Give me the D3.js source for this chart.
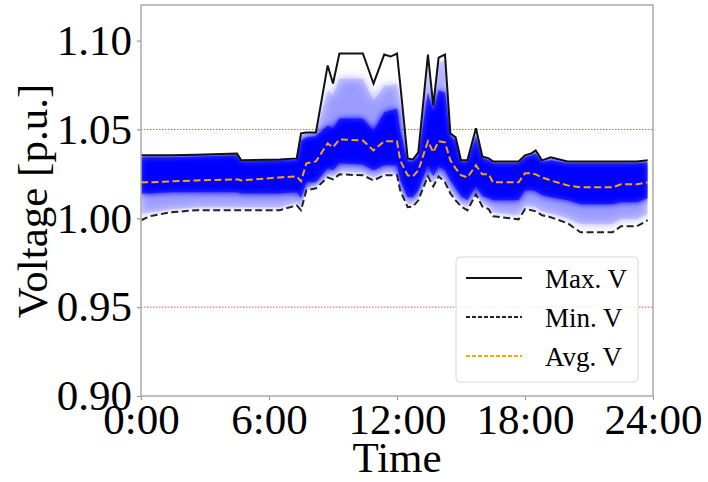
<!DOCTYPE html>
<meta charset="utf-8">
<head>
    <title>Bus voltages</title>
    <script src="https://d3js.org/d3.v7.min.js"></script>
</head>
<style type="text/css">
body{
    margin: 0;
    background: #FFFFFF;
}
text{
    font-family: "Liberation Serif", "Times New Roman", serif;
    fill: #000;
}
</style>
<body>
    <svg id="chart" width="708" height="482"></svg>

    <script type="text/javascript">
        // time of day in hours
        var hours = [0, 0.4, 1.4, 2.6, 4.5, 4.7, 6.5, 7.3, 7.5, 7.75, 8.2, 8.75, 9.0, 9.3, 10.4, 10.9, 11.4, 11.7, 12.0, 12.15,
                     12.5, 12.75, 13.0, 13.45, 13.7, 13.95, 14.25, 14.5, 14.75, 15.0, 15.3, 15.7, 16.0, 16.3, 16.5, 17.7, 18.0, 18.3,
                     18.5, 18.8, 19.2, 20.0, 20.6, 22.1, 22.5, 23.25, 23.75];
        var maxV = [1.0354, 1.0354, 1.0354, 1.0357, 1.0365, 1.0326, 1.0331, 1.0337, 1.0478, 1.0483, 1.0483, 1.0860, 1.0758, 1.0927, 1.0927, 1.0758, 1.0921, 1.0910, 1.0927, 1.0756,
                    1.0337, 1.0331, 1.0371, 1.0921, 1.0635, 1.0904, 1.0921, 1.0478, 1.0455, 1.0326, 1.0326, 1.0506, 1.0348, 1.0337, 1.0320, 1.0320, 1.0354, 1.0365,
                    1.0382, 1.0326, 1.0343, 1.0320, 1.0320, 1.0320, 1.0320, 1.0320, 1.0326];
        var minV = [0.9989, 1.0011, 1.0034, 1.0045, 1.0045, 1.0045, 1.0045, 1.0073, 1.0045, 1.0157, 1.0169, 1.0230, 1.0219, 1.0247, 1.0242, 1.0213, 1.0242, 1.0242, 1.0242, 1.0157,
                    1.0062, 1.0067, 1.0101, 1.0236, 1.0180, 1.0236, 1.0202, 1.0140, 1.0101, 1.0067, 1.0045, 1.0135, 1.0067, 1.0051, 1.0011, 0.9994, 1.0051, 1.0045,
                    1.0039, 1.0017, 1.0006, 0.9972, 0.9921, 0.9921, 0.9955, 0.9955, 0.9989];
        var avgV = [1.0202, 1.0202, 1.0208, 1.0213, 1.0219, 1.0213, 1.0230, 1.0236, 1.0208, 1.0309, 1.0320, 1.0421, 1.0399, 1.0444, 1.0438, 1.0382, 1.0433, 1.0433, 1.0433, 1.0326,
                    1.0242, 1.0236, 1.0270, 1.0433, 1.0371, 1.0433, 1.0427, 1.0326, 1.0281, 1.0242, 1.0230, 1.0298, 1.0247, 1.0247, 1.0202, 1.0202, 1.0253, 1.0253,
                    1.0247, 1.0230, 1.0213, 1.0185, 1.0174, 1.0174, 1.0191, 1.0191, 1.0202];
        // envelope of the pale bus curves (upper / lower)
        var paleTop = [1.0351, 1.0351, 1.0351, 1.0354, 1.0362, 1.0323, 1.0329, 1.0334, 1.0472, 1.0478, 1.0478, 1.0719, 1.0691, 1.0787, 1.0787, 1.0663, 1.0747, 1.0747, 1.0758, 1.0663,
                       1.0331, 1.0326, 1.0365, 1.0876, 1.0629, 1.0876, 1.0888, 1.0472, 1.0449, 1.0320, 1.0326, 1.0494, 1.0343, 1.0331, 1.0315, 1.0315, 1.0348, 1.0360,
                       1.0376, 1.0320, 1.0337, 1.0315, 1.0315, 1.0315, 1.0315, 1.0315, 1.0320];
        var paleBottom = [1.0022, 1.0034, 1.0051, 1.0062, 1.0062, 1.0062, 1.0062, 1.0090, 1.0062, 1.0174, 1.0185, 1.0247, 1.0236, 1.0264, 1.0258, 1.0230, 1.0258, 1.0258, 1.0258, 1.0174,
                          1.0079, 1.0084, 1.0118, 1.0253, 1.0197, 1.0253, 1.0219, 1.0157, 1.0118, 1.0084, 1.0062, 1.0152, 1.0084, 1.0067, 1.0034, 1.0017, 1.0073, 1.0067,
                          1.0062, 1.0039, 1.0028, 1.0000, 0.9966, 0.9966, 0.9994, 0.9994, 1.0022];
        // envelope of the dense bulk of bus curves
        var denseTop = [1.0343, 1.0343, 1.0343, 1.0348, 1.0354, 1.0320, 1.0326, 1.0326, 1.0438, 1.0455, 1.0461, 1.0522, 1.0506, 1.0562, 1.0562, 1.0494, 1.0596, 1.0607, 1.0618, 1.0494,
                        1.0320, 1.0320, 1.0348, 1.0708, 1.0596, 1.0719, 1.0708, 1.0461, 1.0438, 1.0315, 1.0315, 1.0466, 1.0337, 1.0326, 1.0309, 1.0309, 1.0343, 1.0354,
                        1.0365, 1.0315, 1.0326, 1.0309, 1.0309, 1.0309, 1.0309, 1.0309, 1.0315];
        var denseBottom = [1.0140, 1.0140, 1.0146, 1.0146, 1.0146, 1.0140, 1.0140, 1.0146, 1.0112, 1.0202, 1.0202, 1.0281, 1.0270, 1.0309, 1.0303, 1.0270, 1.0298, 1.0298, 1.0298, 1.0213,
                           1.0118, 1.0118, 1.0157, 1.0298, 1.0236, 1.0292, 1.0270, 1.0213, 1.0169, 1.0124, 1.0101, 1.0180, 1.0124, 1.0112, 1.0101, 1.0101, 1.0157, 1.0157,
                           1.0152, 1.0129, 1.0118, 1.0101, 1.0079, 1.0079, 1.0090, 1.0090, 1.0112];

        var xTicks = [0, 6, 12, 18, 24];
        var yTicks = [0.90, 0.95, 1.00, 1.05, 1.10];
        var limits = [1.05, 0.95];
        var legendItems = ["Max. V", "Min. V", "Avg. V"];

        var svg = d3.select("#chart");
        var plotLeft = 141, plotRight = 653, plotTop = 5, plotBottom = 396;

        var x = d3.scaleLinear().domain([0, 24]).range([plotLeft, plotRight]);
        var y = d3.scaleLinear().domain([0.90, 1.12]).range([plotBottom, plotTop]);

        var defs = svg.append("defs");
        defs.append("filter").attr("id", "soft")
            .attr("x", "-5%").attr("y", "-30%").attr("width", "110%").attr("height", "160%")
            .append("feGaussianBlur").attr("stdDeviation", 3);
        defs.append("filter").attr("id", "softer")
            .attr("x", "-5%").attr("y", "-30%").attr("width", "110%").attr("height", "160%")
            .append("feGaussianBlur").attr("stdDeviation", 5);
        defs.append("clipPath").attr("id", "envelope")
            .append("path")
            .attr("d", d3.area()
                .x(function(d, i) { return x(hours[i]); })
                .y0(function(d, i) { return y(minV[i]); })
                .y1(function(d, i) { return y(maxV[i]); })(hours));

        function band(lo, hi) {
            return d3.area()
                .x(function(d, i) { return x(hours[i]); })
                .y0(function(d, i) { return y(lo[i]); })
                .y1(function(d, i) { return y(hi[i]); })(hours);
        }
        function line(vals) {
            return d3.line()
                .x(function(d, i) { return x(hours[i]); })
                .y(function(d, i) { return y(vals[i]); })(hours);
        }

        // voltage limits
        limits.forEach(function(v) {
            svg.append("line")
                .attr("x1", plotLeft).attr("x2", plotRight)
                .attr("y1", y(v)).attr("y2", y(v))
                .attr("stroke", "red")
                .attr("stroke-opacity", 0.7)
                .attr("stroke-width", 1)
                .attr("stroke-dasharray", "1.5,1.5");
        });

        // bus voltage curves, drawn as bands
        var g = svg.append("g").attr("clip-path", "url(#envelope)");
        g.append("path").attr("d", band(paleBottom, paleTop))
            .attr("fill", "#0000ff").attr("opacity", 0.12);
        g.append("path").attr("d", band(paleBottom, paleTop))
            .attr("fill", "#0000ff").attr("opacity", 0.3)
            .attr("filter", "url(#softer)");
        g.append("path").attr("d", band(denseBottom, denseTop))
            .attr("fill", "#0000ff")
            .attr("filter", "url(#soft)");
        g.append("path").attr("d", band(denseBottom, denseTop))
            .attr("fill", "#0000ff").attr("opacity", 0.6);

        // envelope lines
        svg.append("path").attr("d", line(maxV))
            .attr("fill", "none").attr("stroke", "#111").attr("stroke-width", 2);
        svg.append("path").attr("d", line(minV))
            .attr("fill", "none").attr("stroke", "#222").attr("stroke-width", 2)
            .attr("stroke-dasharray", "7,3.5");
        svg.append("path").attr("d", line(avgV))
            .attr("fill", "none").attr("stroke", "#ffa500").attr("stroke-width", 2)
            .attr("stroke-dasharray", "7,3.5");

        // axes
        var yAxis = svg.append("g")
            .attr("transform", "translate(" + plotLeft + ",0)")
            .call(d3.axisLeft(y).tickValues(yTicks).tickFormat(d3.format(".2f")).tickSize(4).tickPadding(5));
        var xAxis = svg.append("g")
            .attr("transform", "translate(0," + plotBottom + ")")
            .call(d3.axisBottom(x).tickValues(xTicks).tickFormat(function(d) { return d + ":00"; }).tickSize(4).tickPadding(3));
        [xAxis, yAxis].forEach(function(a) {
            a.select(".domain").remove();
            a.selectAll("line").attr("stroke", "#999").attr("stroke-width", 1.2);
            a.selectAll("text").style("font-size", "43px").style("font-family", "Liberation Serif");
        });

        // frame
        svg.append("rect")
            .attr("x", plotLeft).attr("y", plotTop)
            .attr("width", plotRight - plotLeft).attr("height", plotBottom - plotTop)
            .attr("fill", "none").attr("stroke", "#aaa").attr("stroke-width", 1.5);

        // axis titles
        svg.append("text")
            .attr("transform", "translate(47," + 201 + ") rotate(-90)")
            .attr("text-anchor", "middle")
            .style("font-size", "43px")
            .text("Voltage [p.u.]");
        svg.append("text")
            .attr("x", (plotLeft + plotRight) / 2).attr("y", 472)
            .attr("text-anchor", "middle")
            .style("font-size", "43px")
            .text("Time");

        // legend
        var legend = svg.append("g").attr("transform", "translate(456,257)");
        legend.append("rect")
            .attr("width", 182).attr("height", 125)
            .attr("rx", 4).attr("ry", 4)
            .attr("fill", "#fff").attr("fill-opacity", 0.85)
            .attr("stroke", "#d8d8d8").attr("stroke-width", 1);
        var styles = [
            {stroke: "#111", dash: null},
            {stroke: "#222", dash: "4,2"},
            {stroke: "#ffa500", dash: "4,2"}
        ];
        legendItems.forEach(function(name, i) {
            var cy = 21 + i * 39;
            legend.append("line")
                .attr("x1", 10).attr("x2", 66)
                .attr("y1", cy).attr("y2", cy)
                .attr("stroke", styles[i].stroke)
                .attr("stroke-width", 2)
                .attr("stroke-dasharray", styles[i].dash);
            legend.append("text")
                .attr("x", 89).attr("y", cy + 10)
                .style("font-size", "27px")
                .text(name);
        });
    </script>
</body>
